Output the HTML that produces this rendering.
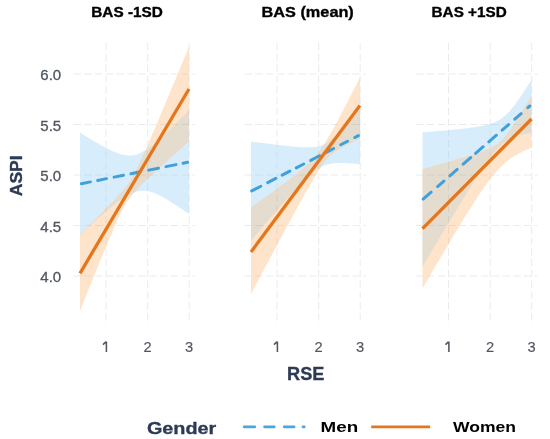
<!DOCTYPE html>
<html><head><meta charset="utf-8"><style>
html,body{margin:0;padding:0;background:#fff;}
body{width:550px;height:439px;overflow:hidden;font-family:"Liberation Sans",sans-serif;}
svg{display:block;filter:blur(0.3px);}
</style></head><body>
<svg width="550" height="439" viewBox="0 0 550 439"><defs><clipPath id="pc0"><rect x="73.5" y="43" width="121.5" height="281.5"/></clipPath><clipPath id="bc0"><polygon points="80.00,132.60 81.36,133.46 82.72,134.31 84.09,135.16 85.45,136.00 86.81,136.84 88.17,137.67 89.54,138.50 90.90,139.32 92.26,140.14 93.62,140.95 94.99,141.75 96.35,142.55 97.71,143.34 99.08,144.11 100.44,144.88 101.80,145.64 103.16,146.38 104.53,147.11 105.89,147.83 107.25,148.53 108.61,149.21 109.97,149.87 111.34,150.51 112.70,151.13 114.06,151.72 115.42,152.29 116.79,152.82 118.15,153.31 119.51,153.77 120.88,154.19 122.24,154.55 123.60,154.87 124.96,155.12 126.33,155.32 127.69,155.45 129.05,155.52 130.41,155.50 131.78,155.42 133.14,155.25 134.50,155.00 135.86,154.67 137.22,154.26 138.59,153.77 139.95,153.21 141.31,152.57 142.68,151.86 144.04,151.09 145.40,150.26 146.76,149.38 148.12,148.45 149.49,147.47 150.85,146.45 152.21,145.39 153.57,144.30 154.94,143.17 156.30,142.02 157.66,140.84 159.03,139.64 160.39,138.42 161.75,137.18 163.11,135.93 164.47,134.66 165.84,133.37 167.20,132.07 168.56,130.76 169.93,129.44 171.29,128.11 172.65,126.77 174.01,125.42 175.38,124.07 176.74,122.71 178.10,121.34 179.46,119.96 180.82,118.58 182.19,117.20 183.55,115.80 184.91,114.41 186.28,113.01 187.64,111.61 189.00,110.20 189.00,214.00 187.64,213.05 186.28,212.10 184.91,211.16 183.55,210.23 182.19,209.30 180.82,208.38 179.46,207.46 178.10,206.55 176.74,205.65 175.38,204.76 174.01,203.88 172.65,203.01 171.29,202.15 169.93,201.31 168.56,200.48 167.20,199.66 165.84,198.86 164.47,198.08 163.11,197.32 161.75,196.59 160.39,195.88 159.03,195.19 157.66,194.54 156.30,193.93 154.94,193.35 153.57,192.82 152.21,192.33 150.85,191.89 149.49,191.52 148.12,191.20 146.76,190.96 145.40,190.78 144.04,190.69 142.68,190.68 141.31,190.76 139.95,190.92 138.59,191.18 137.22,191.50 135.86,191.89 134.50,192.34 133.14,192.85 131.78,193.41 130.41,194.04 129.05,194.71 127.69,195.43 126.33,196.20 124.96,197.01 123.60,197.86 122.24,198.75 120.88,199.67 119.51,200.63 118.15,201.61 116.79,202.62 115.42,203.66 114.06,204.71 112.70,205.79 111.34,206.89 109.97,208.00 108.61,209.13 107.25,210.28 105.89,211.43 104.53,212.60 103.16,213.78 101.80,214.98 100.44,216.18 99.08,217.39 97.71,218.61 96.35,219.83 94.99,221.07 93.62,222.31 92.26,223.56 90.90,224.81 89.54,226.07 88.17,227.33 86.81,228.60 85.45,229.87 84.09,231.15 82.72,232.43 81.36,233.71 80.00,235.00"/></clipPath><clipPath id="uc0"><polygon points="80.00,132.60 81.36,133.46 82.72,134.31 84.09,135.16 85.45,136.00 86.81,136.84 88.17,137.67 89.54,138.50 90.90,139.32 92.26,140.14 93.62,140.95 94.99,141.75 96.35,142.55 97.71,143.34 99.08,144.11 100.44,144.88 101.80,145.64 103.16,146.38 104.53,147.11 105.89,147.83 107.25,148.53 108.61,149.21 109.97,149.87 111.34,150.51 112.70,151.13 114.06,151.72 115.42,152.29 116.79,152.82 118.15,153.31 119.51,153.77 120.88,154.19 122.24,154.55 123.60,154.87 124.96,155.12 126.33,155.32 127.69,155.45 129.05,155.52 130.41,155.50 131.78,155.42 133.14,155.25 134.50,155.00 135.86,154.67 137.22,154.26 138.59,153.77 139.95,153.21 141.31,152.57 142.68,151.86 144.04,151.09 145.40,150.26 146.76,149.38 148.12,148.45 149.49,147.47 150.85,146.45 152.21,145.39 153.57,144.30 154.94,143.17 156.30,142.02 157.66,140.84 159.03,139.64 160.39,138.42 161.75,137.18 163.11,135.93 164.47,134.66 165.84,133.37 167.20,132.07 168.56,130.76 169.93,129.44 171.29,128.11 172.65,126.77 174.01,125.42 175.38,124.07 176.74,122.71 178.10,121.34 179.46,119.96 180.82,118.58 182.19,117.20 183.55,115.80 184.91,114.41 186.28,113.01 187.64,111.61 189.00,110.20 189.00,214.00 187.64,213.05 186.28,212.10 184.91,211.16 183.55,210.23 182.19,209.30 180.82,208.38 179.46,207.46 178.10,206.55 176.74,205.65 175.38,204.76 174.01,203.88 172.65,203.01 171.29,202.15 169.93,201.31 168.56,200.48 167.20,199.66 165.84,198.86 164.47,198.08 163.11,197.32 161.75,196.59 160.39,195.88 159.03,195.19 157.66,194.54 156.30,193.93 154.94,193.35 153.57,192.82 152.21,192.33 150.85,191.89 149.49,191.52 148.12,191.20 146.76,190.96 145.40,190.78 144.04,190.69 142.68,190.68 141.31,190.76 139.95,190.92 138.59,191.18 137.22,191.50 135.86,191.89 134.50,192.34 133.14,192.85 131.78,193.41 130.41,194.04 129.05,194.71 127.69,195.43 126.33,196.20 124.96,197.01 123.60,197.86 122.24,198.75 120.88,199.67 119.51,200.63 118.15,201.61 116.79,202.62 115.42,203.66 114.06,204.71 112.70,205.79 111.34,206.89 109.97,208.00 108.61,209.13 107.25,210.28 105.89,211.43 104.53,212.60 103.16,213.78 101.80,214.98 100.44,216.18 99.08,217.39 97.71,218.61 96.35,219.83 94.99,221.07 93.62,222.31 92.26,223.56 90.90,224.81 89.54,226.07 88.17,227.33 86.81,228.60 85.45,229.87 84.09,231.15 82.72,232.43 81.36,233.71 80.00,235.00"/><polygon points="80.00,234.30 81.36,232.97 82.72,231.64 84.09,230.31 85.45,228.98 86.81,227.64 88.17,226.31 89.54,224.97 90.90,223.63 92.26,222.29 93.62,220.94 94.99,219.60 96.35,218.25 97.71,216.89 99.08,215.54 100.44,214.18 101.80,212.82 103.16,211.45 104.53,210.07 105.89,208.69 107.25,207.30 108.61,205.91 109.97,204.50 111.34,203.09 112.70,201.66 114.06,200.22 115.42,198.76 116.79,197.28 118.15,195.77 119.51,194.24 120.88,192.67 122.24,191.06 123.60,189.40 124.96,187.68 126.33,185.89 127.69,184.02 129.05,182.04 130.41,179.96 131.78,177.75 133.14,175.42 134.50,172.97 135.86,170.41 137.22,167.74 138.59,164.97 139.95,162.13 141.31,159.22 142.68,156.25 144.04,153.24 145.40,150.18 146.76,147.10 148.12,143.98 149.49,140.85 150.85,137.69 152.21,134.52 153.57,131.34 154.94,128.14 156.30,124.93 157.66,121.72 159.03,118.50 160.39,115.27 161.75,112.03 163.11,108.79 164.47,105.55 165.84,102.30 167.20,99.04 168.56,95.79 169.93,92.53 171.29,89.27 172.65,86.00 174.01,82.74 175.38,79.47 176.74,76.20 178.10,72.92 179.46,69.65 180.82,66.38 182.19,63.10 183.55,59.82 184.91,56.54 186.28,53.26 187.64,49.98 189.00,46.70 189.00,141.50 187.64,142.71 186.28,143.92 184.91,145.13 183.55,146.35 182.19,147.56 180.82,148.77 179.46,149.99 178.10,151.20 176.74,152.42 175.38,153.64 174.01,154.85 172.65,156.07 171.29,157.29 169.93,158.52 168.56,159.74 167.20,160.97 165.84,162.19 164.47,163.42 163.11,164.65 161.75,165.89 160.39,167.12 159.03,168.36 157.66,169.61 156.30,170.85 154.94,172.10 153.57,173.36 152.21,174.62 150.85,175.89 149.49,177.16 148.12,178.44 146.76,179.73 145.40,181.04 144.04,182.35 142.68,183.68 141.31,185.03 139.95,186.40 138.59,187.80 137.22,189.22 135.86,190.69 134.50,192.20 133.14,193.77 131.78,195.42 130.41,197.15 129.05,198.98 127.69,200.94 126.33,203.03 124.96,205.28 123.60,207.67 122.24,210.22 120.88,212.90 119.51,215.69 118.15,218.59 116.79,221.57 115.42,224.62 114.06,227.73 112.70,230.88 111.34,234.07 109.97,237.28 108.61,240.53 107.25,243.79 105.89,247.07 104.53,250.37 103.16,253.67 101.80,256.99 100.44,260.32 99.08,263.66 97.71,267.00 96.35,270.35 94.99,273.70 93.62,277.06 92.26,280.42 90.90,283.78 89.54,287.15 88.17,290.52 86.81,293.90 85.45,297.27 84.09,300.65 82.72,304.03 81.36,307.42 80.00,310.80"/></clipPath><clipPath id="pc1"><rect x="244.5" y="43" width="121.5" height="281.5"/></clipPath><clipPath id="bc1"><polygon points="251.00,141.50 252.36,141.68 253.72,141.86 255.09,142.04 256.45,142.22 257.81,142.39 259.18,142.57 260.54,142.75 261.90,142.92 263.26,143.09 264.62,143.27 265.99,143.44 267.35,143.61 268.71,143.78 270.07,143.95 271.44,144.12 272.80,144.29 274.16,144.45 275.52,144.61 276.89,144.78 278.25,144.94 279.61,145.09 280.98,145.25 282.34,145.40 283.70,145.55 285.06,145.70 286.43,145.85 287.79,145.99 289.15,146.13 290.51,146.26 291.88,146.39 293.24,146.52 294.60,146.64 295.96,146.75 297.32,146.86 298.69,146.96 300.05,147.05 301.41,147.13 302.77,147.19 304.14,147.25 305.50,147.29 306.86,147.32 308.23,147.32 309.59,147.30 310.95,147.26 312.31,147.19 313.68,147.08 315.04,146.93 316.40,146.73 317.76,146.48 319.12,146.17 320.49,145.79 321.85,145.33 323.21,144.79 324.57,144.16 325.94,143.44 327.30,142.63 328.66,141.73 330.02,140.76 331.39,139.71 332.75,138.59 334.11,137.41 335.48,136.18 336.84,134.90 338.20,133.59 339.56,132.24 340.93,130.86 342.29,129.46 343.65,128.04 345.01,126.59 346.38,125.14 347.74,123.66 349.10,122.18 350.46,120.68 351.82,119.18 353.19,117.66 354.55,116.14 355.91,114.62 357.27,113.08 358.64,111.54 360.00,110.00 360.00,164.30 358.64,164.15 357.27,164.01 355.91,163.87 354.55,163.75 353.19,163.62 351.82,163.51 350.46,163.40 349.10,163.31 347.74,163.22 346.38,163.15 345.01,163.08 343.65,163.04 342.29,163.01 340.93,163.00 339.56,163.01 338.20,163.04 336.84,163.10 335.48,163.18 334.11,163.31 332.75,163.46 331.39,163.66 330.02,163.91 328.66,164.20 327.30,164.55 325.94,164.96 324.57,165.44 323.21,165.98 321.85,166.60 320.49,167.28 319.12,168.04 317.76,168.88 316.40,169.78 315.04,170.75 313.68,171.78 312.31,172.87 310.95,174.01 309.59,175.20 308.23,176.44 306.86,177.71 305.50,179.02 304.14,180.36 302.77,181.73 301.41,183.12 300.05,184.53 298.69,185.97 297.32,187.42 295.96,188.88 294.60,190.36 293.24,191.85 291.88,193.36 290.51,194.87 289.15,196.39 287.79,197.93 286.43,199.46 285.06,201.01 283.70,202.56 282.34,204.12 280.98,205.68 279.61,207.25 278.25,208.82 276.89,210.39 275.52,211.97 274.16,213.56 272.80,215.14 271.44,216.73 270.07,218.32 268.71,219.91 267.35,221.51 265.99,223.11 264.62,224.71 263.26,226.31 261.90,227.92 260.54,229.52 259.18,231.13 257.81,232.74 256.45,234.35 255.09,235.96 253.72,237.57 252.36,239.19 251.00,240.80"/></clipPath><clipPath id="uc1"><polygon points="251.00,141.50 252.36,141.68 253.72,141.86 255.09,142.04 256.45,142.22 257.81,142.39 259.18,142.57 260.54,142.75 261.90,142.92 263.26,143.09 264.62,143.27 265.99,143.44 267.35,143.61 268.71,143.78 270.07,143.95 271.44,144.12 272.80,144.29 274.16,144.45 275.52,144.61 276.89,144.78 278.25,144.94 279.61,145.09 280.98,145.25 282.34,145.40 283.70,145.55 285.06,145.70 286.43,145.85 287.79,145.99 289.15,146.13 290.51,146.26 291.88,146.39 293.24,146.52 294.60,146.64 295.96,146.75 297.32,146.86 298.69,146.96 300.05,147.05 301.41,147.13 302.77,147.19 304.14,147.25 305.50,147.29 306.86,147.32 308.23,147.32 309.59,147.30 310.95,147.26 312.31,147.19 313.68,147.08 315.04,146.93 316.40,146.73 317.76,146.48 319.12,146.17 320.49,145.79 321.85,145.33 323.21,144.79 324.57,144.16 325.94,143.44 327.30,142.63 328.66,141.73 330.02,140.76 331.39,139.71 332.75,138.59 334.11,137.41 335.48,136.18 336.84,134.90 338.20,133.59 339.56,132.24 340.93,130.86 342.29,129.46 343.65,128.04 345.01,126.59 346.38,125.14 347.74,123.66 349.10,122.18 350.46,120.68 351.82,119.18 353.19,117.66 354.55,116.14 355.91,114.62 357.27,113.08 358.64,111.54 360.00,110.00 360.00,164.30 358.64,164.15 357.27,164.01 355.91,163.87 354.55,163.75 353.19,163.62 351.82,163.51 350.46,163.40 349.10,163.31 347.74,163.22 346.38,163.15 345.01,163.08 343.65,163.04 342.29,163.01 340.93,163.00 339.56,163.01 338.20,163.04 336.84,163.10 335.48,163.18 334.11,163.31 332.75,163.46 331.39,163.66 330.02,163.91 328.66,164.20 327.30,164.55 325.94,164.96 324.57,165.44 323.21,165.98 321.85,166.60 320.49,167.28 319.12,168.04 317.76,168.88 316.40,169.78 315.04,170.75 313.68,171.78 312.31,172.87 310.95,174.01 309.59,175.20 308.23,176.44 306.86,177.71 305.50,179.02 304.14,180.36 302.77,181.73 301.41,183.12 300.05,184.53 298.69,185.97 297.32,187.42 295.96,188.88 294.60,190.36 293.24,191.85 291.88,193.36 290.51,194.87 289.15,196.39 287.79,197.93 286.43,199.46 285.06,201.01 283.70,202.56 282.34,204.12 280.98,205.68 279.61,207.25 278.25,208.82 276.89,210.39 275.52,211.97 274.16,213.56 272.80,215.14 271.44,216.73 270.07,218.32 268.71,219.91 267.35,221.51 265.99,223.11 264.62,224.71 263.26,226.31 261.90,227.92 260.54,229.52 259.18,231.13 257.81,232.74 256.45,234.35 255.09,235.96 253.72,237.57 252.36,239.19 251.00,240.80"/><polygon points="251.00,207.40 252.36,206.43 253.72,205.45 255.09,204.48 256.45,203.51 257.81,202.53 259.18,201.55 260.54,200.58 261.90,199.60 263.26,198.62 264.62,197.64 265.99,196.66 267.35,195.67 268.71,194.69 270.07,193.70 271.44,192.71 272.80,191.72 274.16,190.73 275.52,189.73 276.89,188.74 278.25,187.74 279.61,186.73 280.98,185.73 282.34,184.72 283.70,183.70 285.06,182.68 286.43,181.66 287.79,180.63 289.15,179.60 290.51,178.56 291.88,177.51 293.24,176.45 294.60,175.39 295.96,174.31 297.32,173.22 298.69,172.12 300.05,171.00 301.41,169.86 302.77,168.70 304.14,167.52 305.50,166.31 306.86,165.07 308.23,163.79 309.59,162.47 310.95,161.09 312.31,159.66 313.68,158.17 315.04,156.61 316.40,154.97 317.76,153.24 319.12,151.44 320.49,149.54 321.85,147.57 323.21,145.51 324.57,143.38 325.94,141.18 327.30,138.93 328.66,136.61 330.02,134.26 331.39,131.86 332.75,129.42 334.11,126.96 335.48,124.47 336.84,121.95 338.20,119.42 339.56,116.87 340.93,114.30 342.29,111.72 343.65,109.13 345.01,106.53 346.38,103.92 347.74,101.30 349.10,98.68 350.46,96.05 351.82,93.41 353.19,90.77 354.55,88.12 355.91,85.47 357.27,82.82 358.64,80.16 360.00,77.50 360.00,138.50 358.64,139.14 357.27,139.79 355.91,140.44 354.55,141.10 353.19,141.76 351.82,142.43 350.46,143.11 349.10,143.79 347.74,144.48 346.38,145.19 345.01,145.91 343.65,146.64 342.29,147.39 340.93,148.16 339.56,148.95 338.20,149.78 336.84,150.64 335.48,151.55 334.11,152.51 332.75,153.55 331.39,154.66 330.02,155.88 328.66,157.21 327.30,158.69 325.94,160.32 324.57,162.12 323.21,164.00 321.85,165.94 320.49,167.95 319.12,170.01 317.76,172.12 316.40,174.28 315.04,176.49 313.68,178.74 312.31,181.02 310.95,183.33 309.59,185.67 308.23,188.03 306.86,190.41 305.50,192.82 304.14,195.24 302.77,197.67 301.41,200.12 300.05,202.58 298.69,205.05 297.32,207.52 295.96,210.01 294.60,212.51 293.24,215.01 291.88,217.51 290.51,220.03 289.15,222.54 287.79,225.06 286.43,227.59 285.06,230.12 283.70,232.65 282.34,235.19 280.98,237.73 279.61,240.27 278.25,242.81 276.89,245.36 275.52,247.90 274.16,250.45 272.80,253.01 271.44,255.56 270.07,258.11 268.71,260.67 267.35,263.23 265.99,265.79 264.62,268.35 263.26,270.91 261.90,273.47 260.54,276.03 259.18,278.60 257.81,281.16 256.45,283.73 255.09,286.30 253.72,288.86 252.36,291.43 251.00,294.00"/></clipPath><clipPath id="pc2"><rect x="416.0" y="43" width="121.5" height="281.5"/></clipPath><clipPath id="bc2"><polygon points="422.50,132.30 423.86,132.19 425.23,132.09 426.59,131.98 427.95,131.87 429.31,131.76 430.68,131.65 432.04,131.54 433.40,131.43 434.76,131.32 436.12,131.21 437.49,131.09 438.85,130.98 440.21,130.86 441.57,130.74 442.94,130.63 444.30,130.51 445.66,130.38 447.02,130.26 448.39,130.14 449.75,130.01 451.11,129.88 452.48,129.76 453.84,129.62 455.20,129.49 456.56,129.35 457.93,129.21 459.29,129.07 460.65,128.93 462.01,128.78 463.38,128.63 464.74,128.47 466.10,128.31 467.46,128.15 468.82,127.98 470.19,127.80 471.55,127.62 472.91,127.43 474.27,127.24 475.64,127.03 477.00,126.82 478.36,126.59 479.73,126.36 481.09,126.10 482.45,125.84 483.81,125.55 485.18,125.25 486.54,124.92 487.90,124.57 489.26,124.19 490.62,123.78 491.99,123.32 493.35,122.82 494.71,122.27 496.07,121.66 497.44,120.99 498.80,120.24 500.16,119.41 501.52,118.49 502.89,117.48 504.25,116.37 505.61,115.16 506.98,113.85 508.34,112.44 509.70,110.94 511.06,109.35 512.42,107.69 513.79,105.96 515.15,104.16 516.51,102.31 517.88,100.41 519.24,98.47 520.60,96.49 521.96,94.48 523.33,92.44 524.69,90.38 526.05,88.30 527.41,86.20 528.77,84.08 530.14,81.95 531.50,79.80 531.50,132.70 530.14,132.92 528.77,133.16 527.41,133.41 526.05,133.67 524.69,133.96 523.33,134.26 521.96,134.58 520.60,134.93 519.24,135.30 517.88,135.71 516.51,136.15 515.15,136.62 513.79,137.15 512.42,137.72 511.06,138.35 509.70,139.03 508.34,139.79 506.98,140.62 505.61,141.52 504.25,142.51 502.89,143.59 501.52,144.76 500.16,146.01 498.80,147.35 497.44,148.78 496.07,150.29 494.71,151.88 493.35,153.53 491.99,155.25 490.62,157.03 489.26,158.86 487.90,160.74 486.54,162.66 485.18,164.61 483.81,166.60 482.45,168.61 481.09,170.66 479.73,172.72 478.36,174.81 477.00,176.91 475.64,179.03 474.27,181.17 472.91,183.31 471.55,185.47 470.19,187.64 468.82,189.82 467.46,192.01 466.10,194.21 464.74,196.41 463.38,198.62 462.01,200.84 460.65,203.06 459.29,205.28 457.93,207.51 456.56,209.75 455.20,211.99 453.84,214.23 452.48,216.47 451.11,218.72 449.75,220.98 448.39,223.23 447.02,225.49 445.66,227.75 444.30,230.01 442.94,232.27 441.57,234.54 440.21,236.80 438.85,239.07 437.49,241.34 436.12,243.61 434.76,245.89 433.40,248.16 432.04,250.44 430.68,252.72 429.31,254.99 427.95,257.27 426.59,259.55 425.23,261.83 423.86,264.12 422.50,266.40"/></clipPath><clipPath id="uc2"><polygon points="422.50,132.30 423.86,132.19 425.23,132.09 426.59,131.98 427.95,131.87 429.31,131.76 430.68,131.65 432.04,131.54 433.40,131.43 434.76,131.32 436.12,131.21 437.49,131.09 438.85,130.98 440.21,130.86 441.57,130.74 442.94,130.63 444.30,130.51 445.66,130.38 447.02,130.26 448.39,130.14 449.75,130.01 451.11,129.88 452.48,129.76 453.84,129.62 455.20,129.49 456.56,129.35 457.93,129.21 459.29,129.07 460.65,128.93 462.01,128.78 463.38,128.63 464.74,128.47 466.10,128.31 467.46,128.15 468.82,127.98 470.19,127.80 471.55,127.62 472.91,127.43 474.27,127.24 475.64,127.03 477.00,126.82 478.36,126.59 479.73,126.36 481.09,126.10 482.45,125.84 483.81,125.55 485.18,125.25 486.54,124.92 487.90,124.57 489.26,124.19 490.62,123.78 491.99,123.32 493.35,122.82 494.71,122.27 496.07,121.66 497.44,120.99 498.80,120.24 500.16,119.41 501.52,118.49 502.89,117.48 504.25,116.37 505.61,115.16 506.98,113.85 508.34,112.44 509.70,110.94 511.06,109.35 512.42,107.69 513.79,105.96 515.15,104.16 516.51,102.31 517.88,100.41 519.24,98.47 520.60,96.49 521.96,94.48 523.33,92.44 524.69,90.38 526.05,88.30 527.41,86.20 528.77,84.08 530.14,81.95 531.50,79.80 531.50,132.70 530.14,132.92 528.77,133.16 527.41,133.41 526.05,133.67 524.69,133.96 523.33,134.26 521.96,134.58 520.60,134.93 519.24,135.30 517.88,135.71 516.51,136.15 515.15,136.62 513.79,137.15 512.42,137.72 511.06,138.35 509.70,139.03 508.34,139.79 506.98,140.62 505.61,141.52 504.25,142.51 502.89,143.59 501.52,144.76 500.16,146.01 498.80,147.35 497.44,148.78 496.07,150.29 494.71,151.88 493.35,153.53 491.99,155.25 490.62,157.03 489.26,158.86 487.90,160.74 486.54,162.66 485.18,164.61 483.81,166.60 482.45,168.61 481.09,170.66 479.73,172.72 478.36,174.81 477.00,176.91 475.64,179.03 474.27,181.17 472.91,183.31 471.55,185.47 470.19,187.64 468.82,189.82 467.46,192.01 466.10,194.21 464.74,196.41 463.38,198.62 462.01,200.84 460.65,203.06 459.29,205.28 457.93,207.51 456.56,209.75 455.20,211.99 453.84,214.23 452.48,216.47 451.11,218.72 449.75,220.98 448.39,223.23 447.02,225.49 445.66,227.75 444.30,230.01 442.94,232.27 441.57,234.54 440.21,236.80 438.85,239.07 437.49,241.34 436.12,243.61 434.76,245.89 433.40,248.16 432.04,250.44 430.68,252.72 429.31,254.99 427.95,257.27 426.59,259.55 425.23,261.83 423.86,264.12 422.50,266.40"/><polygon points="422.50,169.00 423.86,168.63 425.23,168.25 426.59,167.88 427.95,167.50 429.31,167.13 430.68,166.75 432.04,166.37 433.40,166.00 434.76,165.62 436.12,165.24 437.49,164.86 438.85,164.48 440.21,164.10 441.57,163.72 442.94,163.34 444.30,162.95 445.66,162.57 447.02,162.18 448.39,161.80 449.75,161.41 451.11,161.02 452.48,160.63 453.84,160.24 455.20,159.85 456.56,159.45 457.93,159.05 459.29,158.65 460.65,158.25 462.01,157.85 463.38,157.44 464.74,157.03 466.10,156.62 467.46,156.20 468.82,155.78 470.19,155.35 471.55,154.92 472.91,154.49 474.27,154.05 475.64,153.60 477.00,153.14 478.36,152.67 479.73,152.19 481.09,151.70 482.45,151.20 483.81,150.68 485.18,150.14 486.54,149.58 487.90,148.99 489.26,148.37 490.62,147.71 491.99,147.02 493.35,146.27 494.71,145.46 496.07,144.58 497.44,143.62 498.80,142.57 500.16,141.41 501.52,140.15 502.89,138.78 504.25,137.30 505.61,135.70 506.98,134.01 508.34,132.22 509.70,130.36 511.06,128.42 512.42,126.43 513.79,124.38 515.15,122.30 516.51,120.17 517.88,118.02 519.24,115.84 520.60,113.63 521.96,111.41 523.33,109.17 524.69,106.92 526.05,104.65 527.41,102.38 528.77,100.09 530.14,97.80 531.50,95.50 531.50,147.60 530.14,148.17 528.77,148.76 527.41,149.36 526.05,149.97 524.69,150.61 523.33,151.26 521.96,151.94 520.60,152.63 519.24,153.35 517.88,154.10 516.51,154.88 515.15,155.69 513.79,156.54 512.42,157.42 511.06,158.35 509.70,159.32 508.34,160.33 506.98,161.39 505.61,162.51 504.25,163.68 502.89,164.91 501.52,166.19 500.16,167.54 498.80,168.94 497.44,170.40 496.07,171.92 494.71,173.50 493.35,175.13 491.99,176.81 490.62,178.54 489.26,180.32 487.90,182.14 486.54,184.00 485.18,185.90 483.81,187.83 482.45,189.80 481.09,191.80 479.73,193.82 478.36,195.87 477.00,197.94 475.64,200.03 474.27,202.14 472.91,204.26 471.55,206.41 470.19,208.56 468.82,210.74 467.46,212.92 466.10,215.11 464.74,217.32 463.38,219.53 462.01,221.76 460.65,223.99 459.29,226.23 457.93,228.48 456.56,230.73 455.20,232.99 453.84,235.25 452.48,237.52 451.11,239.80 449.75,242.08 448.39,244.36 447.02,246.65 445.66,248.94 444.30,251.24 442.94,253.53 441.57,255.84 440.21,258.14 438.85,260.45 437.49,262.76 436.12,265.07 434.76,267.38 433.40,269.70 432.04,272.02 430.68,274.34 429.31,276.66 427.95,278.99 426.59,281.31 425.23,283.64 423.86,285.97 422.50,288.30"/></clipPath></defs><rect width="550" height="439" fill="#fff"/><g stroke="#ebebeb" stroke-width="1" stroke-dasharray="7.4 3.4"><line x1="73.5" y1="74" x2="195" y2="74"/><line x1="73.5" y1="124.5" x2="195" y2="124.5"/><line x1="73.5" y1="175" x2="195" y2="175"/><line x1="73.5" y1="225.5" x2="195" y2="225.5"/><line x1="73.5" y1="276" x2="195" y2="276"/><line x1="106" y1="43" x2="106" y2="324.5"/><line x1="147.7" y1="43" x2="147.7" y2="324.5"/><line x1="189.2" y1="43" x2="189.2" y2="324.5"/></g><g stroke="#ebebeb" stroke-width="1" stroke-dasharray="7.4 3.4"><line x1="244.5" y1="74" x2="366" y2="74"/><line x1="244.5" y1="124.5" x2="366" y2="124.5"/><line x1="244.5" y1="175" x2="366" y2="175"/><line x1="244.5" y1="225.5" x2="366" y2="225.5"/><line x1="244.5" y1="276" x2="366" y2="276"/><line x1="277" y1="43" x2="277" y2="324.5"/><line x1="318.7" y1="43" x2="318.7" y2="324.5"/><line x1="360.2" y1="43" x2="360.2" y2="324.5"/></g><g stroke="#ebebeb" stroke-width="1" stroke-dasharray="7.4 3.4"><line x1="416.0" y1="74" x2="537.5" y2="74"/><line x1="416.0" y1="124.5" x2="537.5" y2="124.5"/><line x1="416.0" y1="175" x2="537.5" y2="175"/><line x1="416.0" y1="225.5" x2="537.5" y2="225.5"/><line x1="416.0" y1="276" x2="537.5" y2="276"/><line x1="448.5" y1="43" x2="448.5" y2="324.5"/><line x1="490.2" y1="43" x2="490.2" y2="324.5"/><line x1="531.7" y1="43" x2="531.7" y2="324.5"/></g><g clip-path="url(#pc0)"><polygon points="80.00,132.60 81.36,133.46 82.72,134.31 84.09,135.16 85.45,136.00 86.81,136.84 88.17,137.67 89.54,138.50 90.90,139.32 92.26,140.14 93.62,140.95 94.99,141.75 96.35,142.55 97.71,143.34 99.08,144.11 100.44,144.88 101.80,145.64 103.16,146.38 104.53,147.11 105.89,147.83 107.25,148.53 108.61,149.21 109.97,149.87 111.34,150.51 112.70,151.13 114.06,151.72 115.42,152.29 116.79,152.82 118.15,153.31 119.51,153.77 120.88,154.19 122.24,154.55 123.60,154.87 124.96,155.12 126.33,155.32 127.69,155.45 129.05,155.52 130.41,155.50 131.78,155.42 133.14,155.25 134.50,155.00 135.86,154.67 137.22,154.26 138.59,153.77 139.95,153.21 141.31,152.57 142.68,151.86 144.04,151.09 145.40,150.26 146.76,149.38 148.12,148.45 149.49,147.47 150.85,146.45 152.21,145.39 153.57,144.30 154.94,143.17 156.30,142.02 157.66,140.84 159.03,139.64 160.39,138.42 161.75,137.18 163.11,135.93 164.47,134.66 165.84,133.37 167.20,132.07 168.56,130.76 169.93,129.44 171.29,128.11 172.65,126.77 174.01,125.42 175.38,124.07 176.74,122.71 178.10,121.34 179.46,119.96 180.82,118.58 182.19,117.20 183.55,115.80 184.91,114.41 186.28,113.01 187.64,111.61 189.00,110.20 189.00,214.00 187.64,213.05 186.28,212.10 184.91,211.16 183.55,210.23 182.19,209.30 180.82,208.38 179.46,207.46 178.10,206.55 176.74,205.65 175.38,204.76 174.01,203.88 172.65,203.01 171.29,202.15 169.93,201.31 168.56,200.48 167.20,199.66 165.84,198.86 164.47,198.08 163.11,197.32 161.75,196.59 160.39,195.88 159.03,195.19 157.66,194.54 156.30,193.93 154.94,193.35 153.57,192.82 152.21,192.33 150.85,191.89 149.49,191.52 148.12,191.20 146.76,190.96 145.40,190.78 144.04,190.69 142.68,190.68 141.31,190.76 139.95,190.92 138.59,191.18 137.22,191.50 135.86,191.89 134.50,192.34 133.14,192.85 131.78,193.41 130.41,194.04 129.05,194.71 127.69,195.43 126.33,196.20 124.96,197.01 123.60,197.86 122.24,198.75 120.88,199.67 119.51,200.63 118.15,201.61 116.79,202.62 115.42,203.66 114.06,204.71 112.70,205.79 111.34,206.89 109.97,208.00 108.61,209.13 107.25,210.28 105.89,211.43 104.53,212.60 103.16,213.78 101.80,214.98 100.44,216.18 99.08,217.39 97.71,218.61 96.35,219.83 94.99,221.07 93.62,222.31 92.26,223.56 90.90,224.81 89.54,226.07 88.17,227.33 86.81,228.60 85.45,229.87 84.09,231.15 82.72,232.43 81.36,233.71 80.00,235.00" fill="#d8edfc"/><polygon points="80.00,234.30 81.36,232.97 82.72,231.64 84.09,230.31 85.45,228.98 86.81,227.64 88.17,226.31 89.54,224.97 90.90,223.63 92.26,222.29 93.62,220.94 94.99,219.60 96.35,218.25 97.71,216.89 99.08,215.54 100.44,214.18 101.80,212.82 103.16,211.45 104.53,210.07 105.89,208.69 107.25,207.30 108.61,205.91 109.97,204.50 111.34,203.09 112.70,201.66 114.06,200.22 115.42,198.76 116.79,197.28 118.15,195.77 119.51,194.24 120.88,192.67 122.24,191.06 123.60,189.40 124.96,187.68 126.33,185.89 127.69,184.02 129.05,182.04 130.41,179.96 131.78,177.75 133.14,175.42 134.50,172.97 135.86,170.41 137.22,167.74 138.59,164.97 139.95,162.13 141.31,159.22 142.68,156.25 144.04,153.24 145.40,150.18 146.76,147.10 148.12,143.98 149.49,140.85 150.85,137.69 152.21,134.52 153.57,131.34 154.94,128.14 156.30,124.93 157.66,121.72 159.03,118.50 160.39,115.27 161.75,112.03 163.11,108.79 164.47,105.55 165.84,102.30 167.20,99.04 168.56,95.79 169.93,92.53 171.29,89.27 172.65,86.00 174.01,82.74 175.38,79.47 176.74,76.20 178.10,72.92 179.46,69.65 180.82,66.38 182.19,63.10 183.55,59.82 184.91,56.54 186.28,53.26 187.64,49.98 189.00,46.70 189.00,141.50 187.64,142.71 186.28,143.92 184.91,145.13 183.55,146.35 182.19,147.56 180.82,148.77 179.46,149.99 178.10,151.20 176.74,152.42 175.38,153.64 174.01,154.85 172.65,156.07 171.29,157.29 169.93,158.52 168.56,159.74 167.20,160.97 165.84,162.19 164.47,163.42 163.11,164.65 161.75,165.89 160.39,167.12 159.03,168.36 157.66,169.61 156.30,170.85 154.94,172.10 153.57,173.36 152.21,174.62 150.85,175.89 149.49,177.16 148.12,178.44 146.76,179.73 145.40,181.04 144.04,182.35 142.68,183.68 141.31,185.03 139.95,186.40 138.59,187.80 137.22,189.22 135.86,190.69 134.50,192.20 133.14,193.77 131.78,195.42 130.41,197.15 129.05,198.98 127.69,200.94 126.33,203.03 124.96,205.28 123.60,207.67 122.24,210.22 120.88,212.90 119.51,215.69 118.15,218.59 116.79,221.57 115.42,224.62 114.06,227.73 112.70,230.88 111.34,234.07 109.97,237.28 108.61,240.53 107.25,243.79 105.89,247.07 104.53,250.37 103.16,253.67 101.80,256.99 100.44,260.32 99.08,263.66 97.71,267.00 96.35,270.35 94.99,273.70 93.62,277.06 92.26,280.42 90.90,283.78 89.54,287.15 88.17,290.52 86.81,293.90 85.45,297.27 84.09,300.65 82.72,304.03 81.36,307.42 80.00,310.80" fill="#fee4cb"/><polygon points="80.00,234.30 81.36,232.97 82.72,231.64 84.09,230.31 85.45,228.98 86.81,227.64 88.17,226.31 89.54,224.97 90.90,223.63 92.26,222.29 93.62,220.94 94.99,219.60 96.35,218.25 97.71,216.89 99.08,215.54 100.44,214.18 101.80,212.82 103.16,211.45 104.53,210.07 105.89,208.69 107.25,207.30 108.61,205.91 109.97,204.50 111.34,203.09 112.70,201.66 114.06,200.22 115.42,198.76 116.79,197.28 118.15,195.77 119.51,194.24 120.88,192.67 122.24,191.06 123.60,189.40 124.96,187.68 126.33,185.89 127.69,184.02 129.05,182.04 130.41,179.96 131.78,177.75 133.14,175.42 134.50,172.97 135.86,170.41 137.22,167.74 138.59,164.97 139.95,162.13 141.31,159.22 142.68,156.25 144.04,153.24 145.40,150.18 146.76,147.10 148.12,143.98 149.49,140.85 150.85,137.69 152.21,134.52 153.57,131.34 154.94,128.14 156.30,124.93 157.66,121.72 159.03,118.50 160.39,115.27 161.75,112.03 163.11,108.79 164.47,105.55 165.84,102.30 167.20,99.04 168.56,95.79 169.93,92.53 171.29,89.27 172.65,86.00 174.01,82.74 175.38,79.47 176.74,76.20 178.10,72.92 179.46,69.65 180.82,66.38 182.19,63.10 183.55,59.82 184.91,56.54 186.28,53.26 187.64,49.98 189.00,46.70 189.00,141.50 187.64,142.71 186.28,143.92 184.91,145.13 183.55,146.35 182.19,147.56 180.82,148.77 179.46,149.99 178.10,151.20 176.74,152.42 175.38,153.64 174.01,154.85 172.65,156.07 171.29,157.29 169.93,158.52 168.56,159.74 167.20,160.97 165.84,162.19 164.47,163.42 163.11,164.65 161.75,165.89 160.39,167.12 159.03,168.36 157.66,169.61 156.30,170.85 154.94,172.10 153.57,173.36 152.21,174.62 150.85,175.89 149.49,177.16 148.12,178.44 146.76,179.73 145.40,181.04 144.04,182.35 142.68,183.68 141.31,185.03 139.95,186.40 138.59,187.80 137.22,189.22 135.86,190.69 134.50,192.20 133.14,193.77 131.78,195.42 130.41,197.15 129.05,198.98 127.69,200.94 126.33,203.03 124.96,205.28 123.60,207.67 122.24,210.22 120.88,212.90 119.51,215.69 118.15,218.59 116.79,221.57 115.42,224.62 114.06,227.73 112.70,230.88 111.34,234.07 109.97,237.28 108.61,240.53 107.25,243.79 105.89,247.07 104.53,250.37 103.16,253.67 101.80,256.99 100.44,260.32 99.08,263.66 97.71,267.00 96.35,270.35 94.99,273.70 93.62,277.06 92.26,280.42 90.90,283.78 89.54,287.15 88.17,290.52 86.81,293.90 85.45,297.27 84.09,300.65 82.72,304.03 81.36,307.42 80.00,310.80" fill="#e3dccf" clip-path="url(#bc0)"/></g><g clip-path="url(#uc0)" stroke="#000" stroke-opacity="0.06" stroke-width="1" stroke-dasharray="7.4 3.4"><line x1="73.5" y1="74" x2="195" y2="74"/><line x1="73.5" y1="124.5" x2="195" y2="124.5"/><line x1="73.5" y1="175" x2="195" y2="175"/><line x1="73.5" y1="225.5" x2="195" y2="225.5"/><line x1="73.5" y1="276" x2="195" y2="276"/><line x1="106" y1="43" x2="106" y2="324.5"/><line x1="147.7" y1="43" x2="147.7" y2="324.5"/><line x1="189.2" y1="43" x2="189.2" y2="324.5"/></g><g clip-path="url(#pc1)"><polygon points="251.00,141.50 252.36,141.68 253.72,141.86 255.09,142.04 256.45,142.22 257.81,142.39 259.18,142.57 260.54,142.75 261.90,142.92 263.26,143.09 264.62,143.27 265.99,143.44 267.35,143.61 268.71,143.78 270.07,143.95 271.44,144.12 272.80,144.29 274.16,144.45 275.52,144.61 276.89,144.78 278.25,144.94 279.61,145.09 280.98,145.25 282.34,145.40 283.70,145.55 285.06,145.70 286.43,145.85 287.79,145.99 289.15,146.13 290.51,146.26 291.88,146.39 293.24,146.52 294.60,146.64 295.96,146.75 297.32,146.86 298.69,146.96 300.05,147.05 301.41,147.13 302.77,147.19 304.14,147.25 305.50,147.29 306.86,147.32 308.23,147.32 309.59,147.30 310.95,147.26 312.31,147.19 313.68,147.08 315.04,146.93 316.40,146.73 317.76,146.48 319.12,146.17 320.49,145.79 321.85,145.33 323.21,144.79 324.57,144.16 325.94,143.44 327.30,142.63 328.66,141.73 330.02,140.76 331.39,139.71 332.75,138.59 334.11,137.41 335.48,136.18 336.84,134.90 338.20,133.59 339.56,132.24 340.93,130.86 342.29,129.46 343.65,128.04 345.01,126.59 346.38,125.14 347.74,123.66 349.10,122.18 350.46,120.68 351.82,119.18 353.19,117.66 354.55,116.14 355.91,114.62 357.27,113.08 358.64,111.54 360.00,110.00 360.00,164.30 358.64,164.15 357.27,164.01 355.91,163.87 354.55,163.75 353.19,163.62 351.82,163.51 350.46,163.40 349.10,163.31 347.74,163.22 346.38,163.15 345.01,163.08 343.65,163.04 342.29,163.01 340.93,163.00 339.56,163.01 338.20,163.04 336.84,163.10 335.48,163.18 334.11,163.31 332.75,163.46 331.39,163.66 330.02,163.91 328.66,164.20 327.30,164.55 325.94,164.96 324.57,165.44 323.21,165.98 321.85,166.60 320.49,167.28 319.12,168.04 317.76,168.88 316.40,169.78 315.04,170.75 313.68,171.78 312.31,172.87 310.95,174.01 309.59,175.20 308.23,176.44 306.86,177.71 305.50,179.02 304.14,180.36 302.77,181.73 301.41,183.12 300.05,184.53 298.69,185.97 297.32,187.42 295.96,188.88 294.60,190.36 293.24,191.85 291.88,193.36 290.51,194.87 289.15,196.39 287.79,197.93 286.43,199.46 285.06,201.01 283.70,202.56 282.34,204.12 280.98,205.68 279.61,207.25 278.25,208.82 276.89,210.39 275.52,211.97 274.16,213.56 272.80,215.14 271.44,216.73 270.07,218.32 268.71,219.91 267.35,221.51 265.99,223.11 264.62,224.71 263.26,226.31 261.90,227.92 260.54,229.52 259.18,231.13 257.81,232.74 256.45,234.35 255.09,235.96 253.72,237.57 252.36,239.19 251.00,240.80" fill="#d8edfc"/><polygon points="251.00,207.40 252.36,206.43 253.72,205.45 255.09,204.48 256.45,203.51 257.81,202.53 259.18,201.55 260.54,200.58 261.90,199.60 263.26,198.62 264.62,197.64 265.99,196.66 267.35,195.67 268.71,194.69 270.07,193.70 271.44,192.71 272.80,191.72 274.16,190.73 275.52,189.73 276.89,188.74 278.25,187.74 279.61,186.73 280.98,185.73 282.34,184.72 283.70,183.70 285.06,182.68 286.43,181.66 287.79,180.63 289.15,179.60 290.51,178.56 291.88,177.51 293.24,176.45 294.60,175.39 295.96,174.31 297.32,173.22 298.69,172.12 300.05,171.00 301.41,169.86 302.77,168.70 304.14,167.52 305.50,166.31 306.86,165.07 308.23,163.79 309.59,162.47 310.95,161.09 312.31,159.66 313.68,158.17 315.04,156.61 316.40,154.97 317.76,153.24 319.12,151.44 320.49,149.54 321.85,147.57 323.21,145.51 324.57,143.38 325.94,141.18 327.30,138.93 328.66,136.61 330.02,134.26 331.39,131.86 332.75,129.42 334.11,126.96 335.48,124.47 336.84,121.95 338.20,119.42 339.56,116.87 340.93,114.30 342.29,111.72 343.65,109.13 345.01,106.53 346.38,103.92 347.74,101.30 349.10,98.68 350.46,96.05 351.82,93.41 353.19,90.77 354.55,88.12 355.91,85.47 357.27,82.82 358.64,80.16 360.00,77.50 360.00,138.50 358.64,139.14 357.27,139.79 355.91,140.44 354.55,141.10 353.19,141.76 351.82,142.43 350.46,143.11 349.10,143.79 347.74,144.48 346.38,145.19 345.01,145.91 343.65,146.64 342.29,147.39 340.93,148.16 339.56,148.95 338.20,149.78 336.84,150.64 335.48,151.55 334.11,152.51 332.75,153.55 331.39,154.66 330.02,155.88 328.66,157.21 327.30,158.69 325.94,160.32 324.57,162.12 323.21,164.00 321.85,165.94 320.49,167.95 319.12,170.01 317.76,172.12 316.40,174.28 315.04,176.49 313.68,178.74 312.31,181.02 310.95,183.33 309.59,185.67 308.23,188.03 306.86,190.41 305.50,192.82 304.14,195.24 302.77,197.67 301.41,200.12 300.05,202.58 298.69,205.05 297.32,207.52 295.96,210.01 294.60,212.51 293.24,215.01 291.88,217.51 290.51,220.03 289.15,222.54 287.79,225.06 286.43,227.59 285.06,230.12 283.70,232.65 282.34,235.19 280.98,237.73 279.61,240.27 278.25,242.81 276.89,245.36 275.52,247.90 274.16,250.45 272.80,253.01 271.44,255.56 270.07,258.11 268.71,260.67 267.35,263.23 265.99,265.79 264.62,268.35 263.26,270.91 261.90,273.47 260.54,276.03 259.18,278.60 257.81,281.16 256.45,283.73 255.09,286.30 253.72,288.86 252.36,291.43 251.00,294.00" fill="#fee4cb"/><polygon points="251.00,207.40 252.36,206.43 253.72,205.45 255.09,204.48 256.45,203.51 257.81,202.53 259.18,201.55 260.54,200.58 261.90,199.60 263.26,198.62 264.62,197.64 265.99,196.66 267.35,195.67 268.71,194.69 270.07,193.70 271.44,192.71 272.80,191.72 274.16,190.73 275.52,189.73 276.89,188.74 278.25,187.74 279.61,186.73 280.98,185.73 282.34,184.72 283.70,183.70 285.06,182.68 286.43,181.66 287.79,180.63 289.15,179.60 290.51,178.56 291.88,177.51 293.24,176.45 294.60,175.39 295.96,174.31 297.32,173.22 298.69,172.12 300.05,171.00 301.41,169.86 302.77,168.70 304.14,167.52 305.50,166.31 306.86,165.07 308.23,163.79 309.59,162.47 310.95,161.09 312.31,159.66 313.68,158.17 315.04,156.61 316.40,154.97 317.76,153.24 319.12,151.44 320.49,149.54 321.85,147.57 323.21,145.51 324.57,143.38 325.94,141.18 327.30,138.93 328.66,136.61 330.02,134.26 331.39,131.86 332.75,129.42 334.11,126.96 335.48,124.47 336.84,121.95 338.20,119.42 339.56,116.87 340.93,114.30 342.29,111.72 343.65,109.13 345.01,106.53 346.38,103.92 347.74,101.30 349.10,98.68 350.46,96.05 351.82,93.41 353.19,90.77 354.55,88.12 355.91,85.47 357.27,82.82 358.64,80.16 360.00,77.50 360.00,138.50 358.64,139.14 357.27,139.79 355.91,140.44 354.55,141.10 353.19,141.76 351.82,142.43 350.46,143.11 349.10,143.79 347.74,144.48 346.38,145.19 345.01,145.91 343.65,146.64 342.29,147.39 340.93,148.16 339.56,148.95 338.20,149.78 336.84,150.64 335.48,151.55 334.11,152.51 332.75,153.55 331.39,154.66 330.02,155.88 328.66,157.21 327.30,158.69 325.94,160.32 324.57,162.12 323.21,164.00 321.85,165.94 320.49,167.95 319.12,170.01 317.76,172.12 316.40,174.28 315.04,176.49 313.68,178.74 312.31,181.02 310.95,183.33 309.59,185.67 308.23,188.03 306.86,190.41 305.50,192.82 304.14,195.24 302.77,197.67 301.41,200.12 300.05,202.58 298.69,205.05 297.32,207.52 295.96,210.01 294.60,212.51 293.24,215.01 291.88,217.51 290.51,220.03 289.15,222.54 287.79,225.06 286.43,227.59 285.06,230.12 283.70,232.65 282.34,235.19 280.98,237.73 279.61,240.27 278.25,242.81 276.89,245.36 275.52,247.90 274.16,250.45 272.80,253.01 271.44,255.56 270.07,258.11 268.71,260.67 267.35,263.23 265.99,265.79 264.62,268.35 263.26,270.91 261.90,273.47 260.54,276.03 259.18,278.60 257.81,281.16 256.45,283.73 255.09,286.30 253.72,288.86 252.36,291.43 251.00,294.00" fill="#e3dccf" clip-path="url(#bc1)"/></g><g clip-path="url(#uc1)" stroke="#000" stroke-opacity="0.06" stroke-width="1" stroke-dasharray="7.4 3.4"><line x1="244.5" y1="74" x2="366" y2="74"/><line x1="244.5" y1="124.5" x2="366" y2="124.5"/><line x1="244.5" y1="175" x2="366" y2="175"/><line x1="244.5" y1="225.5" x2="366" y2="225.5"/><line x1="244.5" y1="276" x2="366" y2="276"/><line x1="277" y1="43" x2="277" y2="324.5"/><line x1="318.7" y1="43" x2="318.7" y2="324.5"/><line x1="360.2" y1="43" x2="360.2" y2="324.5"/></g><g clip-path="url(#pc2)"><polygon points="422.50,132.30 423.86,132.19 425.23,132.09 426.59,131.98 427.95,131.87 429.31,131.76 430.68,131.65 432.04,131.54 433.40,131.43 434.76,131.32 436.12,131.21 437.49,131.09 438.85,130.98 440.21,130.86 441.57,130.74 442.94,130.63 444.30,130.51 445.66,130.38 447.02,130.26 448.39,130.14 449.75,130.01 451.11,129.88 452.48,129.76 453.84,129.62 455.20,129.49 456.56,129.35 457.93,129.21 459.29,129.07 460.65,128.93 462.01,128.78 463.38,128.63 464.74,128.47 466.10,128.31 467.46,128.15 468.82,127.98 470.19,127.80 471.55,127.62 472.91,127.43 474.27,127.24 475.64,127.03 477.00,126.82 478.36,126.59 479.73,126.36 481.09,126.10 482.45,125.84 483.81,125.55 485.18,125.25 486.54,124.92 487.90,124.57 489.26,124.19 490.62,123.78 491.99,123.32 493.35,122.82 494.71,122.27 496.07,121.66 497.44,120.99 498.80,120.24 500.16,119.41 501.52,118.49 502.89,117.48 504.25,116.37 505.61,115.16 506.98,113.85 508.34,112.44 509.70,110.94 511.06,109.35 512.42,107.69 513.79,105.96 515.15,104.16 516.51,102.31 517.88,100.41 519.24,98.47 520.60,96.49 521.96,94.48 523.33,92.44 524.69,90.38 526.05,88.30 527.41,86.20 528.77,84.08 530.14,81.95 531.50,79.80 531.50,132.70 530.14,132.92 528.77,133.16 527.41,133.41 526.05,133.67 524.69,133.96 523.33,134.26 521.96,134.58 520.60,134.93 519.24,135.30 517.88,135.71 516.51,136.15 515.15,136.62 513.79,137.15 512.42,137.72 511.06,138.35 509.70,139.03 508.34,139.79 506.98,140.62 505.61,141.52 504.25,142.51 502.89,143.59 501.52,144.76 500.16,146.01 498.80,147.35 497.44,148.78 496.07,150.29 494.71,151.88 493.35,153.53 491.99,155.25 490.62,157.03 489.26,158.86 487.90,160.74 486.54,162.66 485.18,164.61 483.81,166.60 482.45,168.61 481.09,170.66 479.73,172.72 478.36,174.81 477.00,176.91 475.64,179.03 474.27,181.17 472.91,183.31 471.55,185.47 470.19,187.64 468.82,189.82 467.46,192.01 466.10,194.21 464.74,196.41 463.38,198.62 462.01,200.84 460.65,203.06 459.29,205.28 457.93,207.51 456.56,209.75 455.20,211.99 453.84,214.23 452.48,216.47 451.11,218.72 449.75,220.98 448.39,223.23 447.02,225.49 445.66,227.75 444.30,230.01 442.94,232.27 441.57,234.54 440.21,236.80 438.85,239.07 437.49,241.34 436.12,243.61 434.76,245.89 433.40,248.16 432.04,250.44 430.68,252.72 429.31,254.99 427.95,257.27 426.59,259.55 425.23,261.83 423.86,264.12 422.50,266.40" fill="#d8edfc"/><polygon points="422.50,169.00 423.86,168.63 425.23,168.25 426.59,167.88 427.95,167.50 429.31,167.13 430.68,166.75 432.04,166.37 433.40,166.00 434.76,165.62 436.12,165.24 437.49,164.86 438.85,164.48 440.21,164.10 441.57,163.72 442.94,163.34 444.30,162.95 445.66,162.57 447.02,162.18 448.39,161.80 449.75,161.41 451.11,161.02 452.48,160.63 453.84,160.24 455.20,159.85 456.56,159.45 457.93,159.05 459.29,158.65 460.65,158.25 462.01,157.85 463.38,157.44 464.74,157.03 466.10,156.62 467.46,156.20 468.82,155.78 470.19,155.35 471.55,154.92 472.91,154.49 474.27,154.05 475.64,153.60 477.00,153.14 478.36,152.67 479.73,152.19 481.09,151.70 482.45,151.20 483.81,150.68 485.18,150.14 486.54,149.58 487.90,148.99 489.26,148.37 490.62,147.71 491.99,147.02 493.35,146.27 494.71,145.46 496.07,144.58 497.44,143.62 498.80,142.57 500.16,141.41 501.52,140.15 502.89,138.78 504.25,137.30 505.61,135.70 506.98,134.01 508.34,132.22 509.70,130.36 511.06,128.42 512.42,126.43 513.79,124.38 515.15,122.30 516.51,120.17 517.88,118.02 519.24,115.84 520.60,113.63 521.96,111.41 523.33,109.17 524.69,106.92 526.05,104.65 527.41,102.38 528.77,100.09 530.14,97.80 531.50,95.50 531.50,147.60 530.14,148.17 528.77,148.76 527.41,149.36 526.05,149.97 524.69,150.61 523.33,151.26 521.96,151.94 520.60,152.63 519.24,153.35 517.88,154.10 516.51,154.88 515.15,155.69 513.79,156.54 512.42,157.42 511.06,158.35 509.70,159.32 508.34,160.33 506.98,161.39 505.61,162.51 504.25,163.68 502.89,164.91 501.52,166.19 500.16,167.54 498.80,168.94 497.44,170.40 496.07,171.92 494.71,173.50 493.35,175.13 491.99,176.81 490.62,178.54 489.26,180.32 487.90,182.14 486.54,184.00 485.18,185.90 483.81,187.83 482.45,189.80 481.09,191.80 479.73,193.82 478.36,195.87 477.00,197.94 475.64,200.03 474.27,202.14 472.91,204.26 471.55,206.41 470.19,208.56 468.82,210.74 467.46,212.92 466.10,215.11 464.74,217.32 463.38,219.53 462.01,221.76 460.65,223.99 459.29,226.23 457.93,228.48 456.56,230.73 455.20,232.99 453.84,235.25 452.48,237.52 451.11,239.80 449.75,242.08 448.39,244.36 447.02,246.65 445.66,248.94 444.30,251.24 442.94,253.53 441.57,255.84 440.21,258.14 438.85,260.45 437.49,262.76 436.12,265.07 434.76,267.38 433.40,269.70 432.04,272.02 430.68,274.34 429.31,276.66 427.95,278.99 426.59,281.31 425.23,283.64 423.86,285.97 422.50,288.30" fill="#fee4cb"/><polygon points="422.50,169.00 423.86,168.63 425.23,168.25 426.59,167.88 427.95,167.50 429.31,167.13 430.68,166.75 432.04,166.37 433.40,166.00 434.76,165.62 436.12,165.24 437.49,164.86 438.85,164.48 440.21,164.10 441.57,163.72 442.94,163.34 444.30,162.95 445.66,162.57 447.02,162.18 448.39,161.80 449.75,161.41 451.11,161.02 452.48,160.63 453.84,160.24 455.20,159.85 456.56,159.45 457.93,159.05 459.29,158.65 460.65,158.25 462.01,157.85 463.38,157.44 464.74,157.03 466.10,156.62 467.46,156.20 468.82,155.78 470.19,155.35 471.55,154.92 472.91,154.49 474.27,154.05 475.64,153.60 477.00,153.14 478.36,152.67 479.73,152.19 481.09,151.70 482.45,151.20 483.81,150.68 485.18,150.14 486.54,149.58 487.90,148.99 489.26,148.37 490.62,147.71 491.99,147.02 493.35,146.27 494.71,145.46 496.07,144.58 497.44,143.62 498.80,142.57 500.16,141.41 501.52,140.15 502.89,138.78 504.25,137.30 505.61,135.70 506.98,134.01 508.34,132.22 509.70,130.36 511.06,128.42 512.42,126.43 513.79,124.38 515.15,122.30 516.51,120.17 517.88,118.02 519.24,115.84 520.60,113.63 521.96,111.41 523.33,109.17 524.69,106.92 526.05,104.65 527.41,102.38 528.77,100.09 530.14,97.80 531.50,95.50 531.50,147.60 530.14,148.17 528.77,148.76 527.41,149.36 526.05,149.97 524.69,150.61 523.33,151.26 521.96,151.94 520.60,152.63 519.24,153.35 517.88,154.10 516.51,154.88 515.15,155.69 513.79,156.54 512.42,157.42 511.06,158.35 509.70,159.32 508.34,160.33 506.98,161.39 505.61,162.51 504.25,163.68 502.89,164.91 501.52,166.19 500.16,167.54 498.80,168.94 497.44,170.40 496.07,171.92 494.71,173.50 493.35,175.13 491.99,176.81 490.62,178.54 489.26,180.32 487.90,182.14 486.54,184.00 485.18,185.90 483.81,187.83 482.45,189.80 481.09,191.80 479.73,193.82 478.36,195.87 477.00,197.94 475.64,200.03 474.27,202.14 472.91,204.26 471.55,206.41 470.19,208.56 468.82,210.74 467.46,212.92 466.10,215.11 464.74,217.32 463.38,219.53 462.01,221.76 460.65,223.99 459.29,226.23 457.93,228.48 456.56,230.73 455.20,232.99 453.84,235.25 452.48,237.52 451.11,239.80 449.75,242.08 448.39,244.36 447.02,246.65 445.66,248.94 444.30,251.24 442.94,253.53 441.57,255.84 440.21,258.14 438.85,260.45 437.49,262.76 436.12,265.07 434.76,267.38 433.40,269.70 432.04,272.02 430.68,274.34 429.31,276.66 427.95,278.99 426.59,281.31 425.23,283.64 423.86,285.97 422.50,288.30" fill="#e3dccf" clip-path="url(#bc2)"/></g><g clip-path="url(#uc2)" stroke="#000" stroke-opacity="0.06" stroke-width="1" stroke-dasharray="7.4 3.4"><line x1="416.0" y1="74" x2="537.5" y2="74"/><line x1="416.0" y1="124.5" x2="537.5" y2="124.5"/><line x1="416.0" y1="175" x2="537.5" y2="175"/><line x1="416.0" y1="225.5" x2="537.5" y2="225.5"/><line x1="416.0" y1="276" x2="537.5" y2="276"/><line x1="448.5" y1="43" x2="448.5" y2="324.5"/><line x1="490.2" y1="43" x2="490.2" y2="324.5"/><line x1="531.7" y1="43" x2="531.7" y2="324.5"/></g><path d="M81.40 183.72L90.40 181.90M97.70 180.43L106.50 178.65M114.10 177.12L123.50 175.22M131.00 173.71L140.30 171.83M148.70 170.13L158.50 168.16M166.00 166.64L176.00 164.62M183.10 163.19L187.60 162.28" stroke="#40a0dc" stroke-width="3" stroke-linecap="round" fill="none"/><line x1="80.0" y1="273.3" x2="189.0" y2="89.0" stroke="#e5761c" stroke-width="3.3"/><path d="M251.70 190.94L260.80 186.22M267.70 182.64L275.80 178.44M282.20 175.13L289.80 171.19M296.30 167.82L303.70 163.98M310.70 160.35L319.50 155.79M325.70 152.58L333.60 148.48M340.80 144.75L347.60 141.23M354.80 137.50L358.40 135.63" stroke="#40a0dc" stroke-width="3" stroke-linecap="round" fill="none"/><line x1="251.0" y1="252.0" x2="360.0" y2="105.5" stroke="#e5761c" stroke-width="3.3"/><path d="M423.20 199.09L431.10 192.20M437.60 186.53L443.90 181.03M449.90 175.79L457.20 169.43M463.20 164.19L470.70 157.65M475.60 153.37L483.20 146.74M488.80 141.85L496.40 135.22M502.20 130.16L508.60 124.58M514.80 119.17L521.10 113.67M527.90 107.74L529.90 106.00" stroke="#40a0dc" stroke-width="3" stroke-linecap="round" fill="none"/><line x1="422.5" y1="228.7" x2="531.5" y2="119.0" stroke="#e5761c" stroke-width="3.3"/><g font-family="Liberation Sans, sans-serif"><text x="91.3" y="17" font-size="14.8" font-weight="bold" fill="#000" text-anchor="start" textLength="71.6" lengthAdjust="spacingAndGlyphs" stroke="#000" stroke-width="0.35">BAS -1SD</text><text x="261.6" y="17.2" font-size="14.8" font-weight="bold" fill="#000" text-anchor="start" textLength="92.2" lengthAdjust="spacingAndGlyphs" stroke="#000" stroke-width="0.35">BAS (mean)</text><text x="431.6" y="17" font-size="14.8" font-weight="bold" fill="#000" text-anchor="start" textLength="75.1" lengthAdjust="spacingAndGlyphs" stroke="#000" stroke-width="0.35">BAS +1SD</text><text x="61.2" y="80.0" font-size="15.0" font-weight="normal" fill="#50565f" text-anchor="end" textLength="20.9" lengthAdjust="spacingAndGlyphs" stroke="#50565f" stroke-width="0.3">6.0</text><text x="61.2" y="130.5" font-size="15.0" font-weight="normal" fill="#50565f" text-anchor="end" textLength="20.9" lengthAdjust="spacingAndGlyphs" stroke="#50565f" stroke-width="0.3">5.5</text><text x="61.2" y="181.0" font-size="15.0" font-weight="normal" fill="#50565f" text-anchor="end" textLength="20.9" lengthAdjust="spacingAndGlyphs" stroke="#50565f" stroke-width="0.3">5.0</text><text x="61.2" y="231.5" font-size="15.0" font-weight="normal" fill="#50565f" text-anchor="end" textLength="20.9" lengthAdjust="spacingAndGlyphs" stroke="#50565f" stroke-width="0.3">4.5</text><text x="61.2" y="282.0" font-size="15.0" font-weight="normal" fill="#50565f" text-anchor="end" textLength="20.9" lengthAdjust="spacingAndGlyphs" stroke="#50565f" stroke-width="0.3">4.0</text><path d="M106.40 341.5V352M105.90 341.9L103.00 344.6" stroke="#50565f" stroke-width="1.55" fill="none"/><text x="147.7" y="352" font-size="14.7" font-weight="normal" fill="#50565f" text-anchor="middle" stroke="#50565f" stroke-width="0.15">2</text><text x="189.2" y="352" font-size="14.7" font-weight="normal" fill="#50565f" text-anchor="middle" stroke="#50565f" stroke-width="0.15">3</text><path d="M277.40 341.5V352M276.90 341.9L274.00 344.6" stroke="#50565f" stroke-width="1.55" fill="none"/><text x="318.7" y="352" font-size="14.7" font-weight="normal" fill="#50565f" text-anchor="middle" stroke="#50565f" stroke-width="0.15">2</text><text x="360.2" y="352" font-size="14.7" font-weight="normal" fill="#50565f" text-anchor="middle" stroke="#50565f" stroke-width="0.15">3</text><path d="M448.90 341.5V352M448.40 341.9L445.50 344.6" stroke="#50565f" stroke-width="1.55" fill="none"/><text x="490.2" y="352" font-size="14.7" font-weight="normal" fill="#50565f" text-anchor="middle" stroke="#50565f" stroke-width="0.15">2</text><text x="531.7" y="352" font-size="14.7" font-weight="normal" fill="#50565f" text-anchor="middle" stroke="#50565f" stroke-width="0.15">3</text><text x="287.1" y="379.5" font-size="17.7" font-weight="bold" fill="#2c3a55" text-anchor="start" textLength="37.4" lengthAdjust="spacingAndGlyphs" stroke="#2c3a55" stroke-width="0.3">RSE</text><text x="0" y="0" font-size="16.9" font-weight="bold" fill="#2c3a55" stroke="#2c3a55" stroke-width="0.35" textLength="41" lengthAdjust="spacingAndGlyphs" transform="translate(21.9,196.3) rotate(-90)">ASPI</text><text x="146.9" y="433.6" font-size="17.2" font-weight="bold" fill="#2c3a55" text-anchor="start" textLength="69.4" lengthAdjust="spacingAndGlyphs" stroke="#2c3a55" stroke-width="0.3">Gender</text><path d="M244.1 426.8H254.8M264.5 426.8H274.3M284.2 426.8H294.1M302.9 426.8H304.3" stroke="#48a6e0" stroke-width="2.7" stroke-linecap="round" fill="none"/><text x="320.6" y="432" font-size="14.8" font-weight="bold" fill="#000" text-anchor="start" textLength="37.6" lengthAdjust="spacingAndGlyphs" >Men</text><line x1="371.2" y1="426.9" x2="430.1" y2="426.9" stroke="#e5761c" stroke-width="2.7"/><text x="453.0" y="432.3" font-size="14.8" font-weight="bold" fill="#000" text-anchor="start" textLength="63" lengthAdjust="spacingAndGlyphs" >Women</text></g></svg>
</body></html>
